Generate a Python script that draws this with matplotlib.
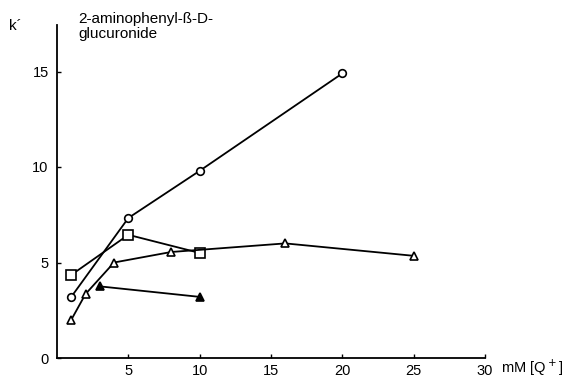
import matplotlib
matplotlib.use("Agg")
import matplotlib.pyplot as plt

plt.rcParams['font.family'] = ['Liberation Sans', 'DejaVu Sans']

circle_x = [1, 5, 10, 20]
circle_y = [3.2, 7.33, 9.8, 14.9]
square_x = [1, 5, 10]
square_y = [4.35, 6.45, 5.5]
tri_open_x = [1, 2, 4, 8, 16, 25]
tri_open_y = [2.0, 3.35, 5.0, 5.55, 6.0, 5.35]
tri_fill_x = [3, 10]
tri_fill_y = [3.75, 3.2]

x_ticks = [5, 10, 15, 20, 25, 30]
y_ticks = [0, 5, 10, 15]

fig = plt.figure(figsize=(5.64, 3.83), dpi=100)
ax = fig.add_axes([57/564, 1-358/383, (485-57)/564, (358-25)/383])

kw = dict(color='black', lw=1.3, markeredgecolor='black', markeredgewidth=1.2, clip_on=False)
ax.plot(circle_x, circle_y, marker='o', markersize=5.5, markerfacecolor='white', **kw)
ax.plot(square_x, square_y, marker='s', markersize=6.5, markerfacecolor='white', **kw)
ax.plot(tri_open_x, tri_open_y, marker='^', markersize=6, markerfacecolor='white', **kw)
ax.plot(tri_fill_x, tri_fill_y, marker='^', markersize=6, markerfacecolor='black', **kw)

ax.set_xlim(0, 30)
ax.set_ylim(0, (358-25)/19.1)
ax.set_xticks(x_ticks)
ax.set_yticks(y_ticks)
ax.tick_params(direction='in', length=3, width=1, labelsize=10.5, pad=6)
ax.tick_params(axis='x', pad=4)
for s in ['top', 'right']:
    ax.spines[s].set_visible(False)
for s in ['left', 'bottom']:
    ax.spines[s].set_linewidth(1.3)

fig.text(9/564, 1-30/383, "k´", fontsize=11, va='baseline', ha='left')
fig.text(78/564, 1-23/383, "2-aminophenyl-ß-D-", fontsize=11, va='baseline', ha='left')
fig.text(78/564, 1-38/383, "glucuronide", fontsize=11, va='baseline', ha='left')
fig.text(501/564, 1-373/383, "mM [Q$^+$]", fontsize=10.5, va='baseline', ha='left')

fig.savefig("out.png", dpi=100)
